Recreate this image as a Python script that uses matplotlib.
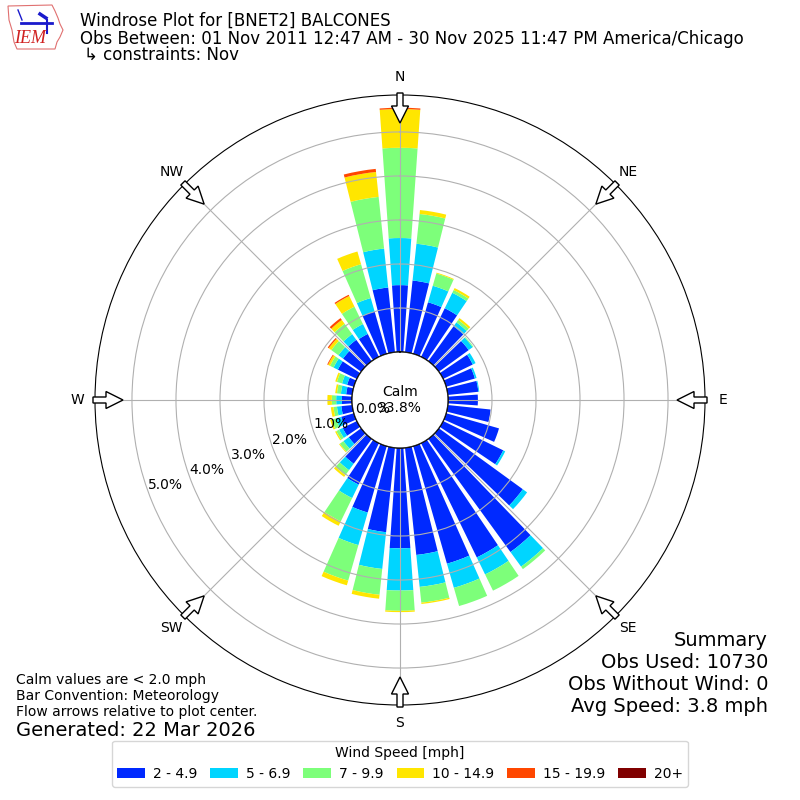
import numpy as np
import matplotlib
matplotlib.use('Agg')
import matplotlib.pyplot as plt
from matplotlib.patches import Circle, FancyArrow, Polygon

# direction bins (deg, meteorological) and percent of obs per speed bin
directions = np.arange(0, 360, 10)
spd_2_5 = [1.52, 1.64, 1.22, 1.23, 0.98, 0.84, 0.75, 0.68, 0.70, 0.68, 0.98, 1.25,
           1.52, 2.36, 3.18, 2.89, 2.78, 2.45, 2.28, 1.93, 1.57, 1.05, 0.70, 0.35,
           0.36, 0.30, 0.25, 0.23, 0.14, 0.16, 0.48, 0.51, 0.60, 0.58, 1.00, 1.48]
spd_5_7 = [1.07, 0.84, 0.39, 0.39, 0.11, 0.11, 0.07, 0.04, 0.02, 0.00, 0.00, 0.00,
           0.05, 0.12, 0.41, 0.43, 0.57, 0.73, 0.96, 0.84, 0.77, 0.34, 0.18, 0.15,
           0.09, 0.12, 0.10, 0.13, 0.12, 0.12, 0.11, 0.13, 0.16, 0.25, 0.32, 0.89]
spd_7_10 = [2.05, 0.68, 0.29, 0.07, 0.07, 0.02, 0.00, 0.00, 0.00, 0.00, 0.00, 0.00,
            0.00, 0.00, 0.07, 0.41, 0.43, 0.36, 0.46, 0.59, 0.84, 0.59, 0.14, 0.10,
            0.07, 0.10, 0.08, 0.10, 0.09, 0.12, 0.09, 0.20, 0.29, 0.44, 0.80, 1.18]
spd_10_15 = [0.88, 0.09, 0.02, 0.05, 0.05, 0.00, 0.00, 0.00, 0.00, 0.00, 0.00, 0.00,
             0.00, 0.00, 0.00, 0.00, 0.00, 0.03, 0.03, 0.09, 0.11, 0.11, 0.05, 0.02,
             0.03, 0.04, 0.06, 0.10, 0.04, 0.04, 0.05, 0.07, 0.11, 0.27, 0.30, 0.57]
spd_15_20 = [0.03, 0.00, 0.00, 0.00, 0.00, 0.00, 0.00, 0.00, 0.00, 0.00, 0.00, 0.00,
             0.00, 0.00, 0.00, 0.00, 0.00, 0.00, 0.00, 0.00, 0.00, 0.00, 0.00, 0.00,
             0.00, 0.00, 0.00, 0.00, 0.00, 0.00, 0.02, 0.03, 0.05, 0.03, 0.00, 0.07]
spd_20p = [0.0] * 36
bin_labels = ['2 - 4.9', '5 - 6.9', '7 - 9.9', '10 - 14.9', '15 - 19.9', '20+']
calm_pct = 33.8
rings = [0, 1, 2, 3, 4, 5]
compass = ['N', 'NE', 'E', 'SE', 'S', 'SW', 'W', 'NW']

W, H = 800, 800
def fx(px):
    return px / W
def fy(py):
    return 1 - py / H

fig = plt.figure(figsize=(8, 8), dpi=100)
ax = fig.add_axes([fx(95), fy(705), 610 / W, 610 / H], projection='polar')
ax.set_theta_zero_location('N')
ax.set_theta_direction(-1)

rmax = 5.84
rorigin = -1.09
ax.set_ylim(0, rmax)
ax.set_rorigin(rorigin)

colors = plt.cm.jet(np.arange(1, 7) / 6.)
theta = np.deg2rad(directions)
width = np.deg2rad(10) * 0.8
bottom = np.zeros(36)
bars = []
for vals, c in zip([spd_2_5, spd_5_7, spd_7_10, spd_10_15, spd_15_20, spd_20p], colors):
    vals = np.array(vals)
    b = ax.bar(theta, vals, width=width, bottom=bottom, color=c, linewidth=0)
    bars.append(b)
    bottom = bottom + vals

ax.set_thetagrids(range(0, 360, 45), compass)
ax.tick_params(axis='x', pad=5.7, length=0, labelsize=10)
ax.set_rgrids(rings)
ax.set_yticklabels([])
ax.tick_params(axis='y', length=0)

# calm circle
r0 = 0.5 * (0 - rorigin) / (rmax - rorigin)
ax.add_patch(Circle((0.5, 0.5), r0, transform=ax.transAxes, fc='white',
                    ec='black', lw=1, zorder=3))
ax.text(0.5, 0.5, 'Calm\n%.1f%%' % calm_pct, transform=ax.transAxes,
        ha='center', va='center', fontsize=10, zorder=4)

for r in rings:
    ax.text(np.deg2rad(250), r, '%.1f%%' % r, ha='left', va='bottom',
            fontsize=10, zorder=4)

# flow arrows relative to center
for a in range(0, 360, 45):
    ux, uy = np.sin(np.deg2rad(a)), np.cos(np.deg2rad(a))
    r_out, r_in = 307 / 610, 277 / 610
    ax.add_patch(FancyArrow(0.5 + r_out * ux, 0.5 + r_out * uy,
                            (r_in - r_out) * ux, (r_in - r_out) * uy,
                            width=6 / 610, head_width=17 / 610, head_length=17 / 610,
                            length_includes_head=True, fc='white', ec='black',
                            lw=1, transform=ax.transAxes, clip_on=False, zorder=5))

# header
fig.text(fx(80), fy(26), 'Windrose Plot for [BNET2] BALCONES', fontsize=12, va='baseline')
fig.text(fx(80), fy(44), 'Obs Between: 01 Nov 2011 12:47 AM - 30 Nov 2025 11:47 PM America/Chicago',
         fontsize=12, va='baseline')
fig.text(fx(84), fy(60), '\u21b3 constraints: Nov', fontsize=12, va='baseline')

# rough IEM logo
iowa = [(8, 6), (52, 5), (55, 11), (58, 18), (60, 24), (63, 30), (60, 37), (57, 42),
        (55, 49), (17, 49), (14, 42), (12, 30), (9, 20)]
fig.add_artist(Polygon([(fx(x), fy(y)) for x, y in iowa], closed=True, fill=False,
                       ec='#e07070', lw=0.8, transform=fig.transFigure))
fig.add_artist(plt.Line2D([fx(21), fx(52)], [fy(23), fy(23)], color='#1a1acc', lw=2,
                          transform=fig.transFigure))
fig.add_artist(plt.Line2D([fx(18), fx(22)], [fy(10), fy(20)], color='#1a1acc', lw=1,
                          transform=fig.transFigure))
fig.add_artist(plt.Line2D([fx(47), fx(47)], [fy(20), fy(33)], color='#1a1acc', lw=1.5,
                          transform=fig.transFigure))
fig.add_artist(plt.Line2D([fx(40), fx(46)], [fy(14), fy(18)], color='#1a1acc', lw=2.5,
                          transform=fig.transFigure))
fig.text(fx(30), fy(43), 'IEM', color='#d02020', fontsize=13, fontstyle='italic',
         family='Liberation Serif', ha='center', va='baseline')

# footers
fig.text(fx(16), fy(680), 'Calm values are < 2.0 mph', fontsize=10, va='center')
fig.text(fx(16), fy(696), 'Bar Convention: Meteorology', fontsize=10, va='center')
fig.text(fx(16), fy(712), 'Flow arrows relative to plot center.', fontsize=10, va='center')
fig.text(fx(16), fy(730), 'Generated: 22 Mar 2026', fontsize=14, va='center')

summary = ['Summary', 'Obs Used: 10730', 'Obs Without Wind: 0', 'Avg Speed: 3.8 mph']
for i, s in enumerate(summary):
    fig.text(fx(768), fy(640 + 22 * i), s, fontsize=14, ha='right', va='center')

fig.legend([b[0] for b in bars], bin_labels, ncol=6, loc='lower center',
           bbox_to_anchor=(0.5, 0.008), title='Wind Speed [mph]', fontsize=10,
           title_fontsize=10, handletextpad=0.55, columnspacing=0.95)

fig.savefig('out.png', dpi=100)
